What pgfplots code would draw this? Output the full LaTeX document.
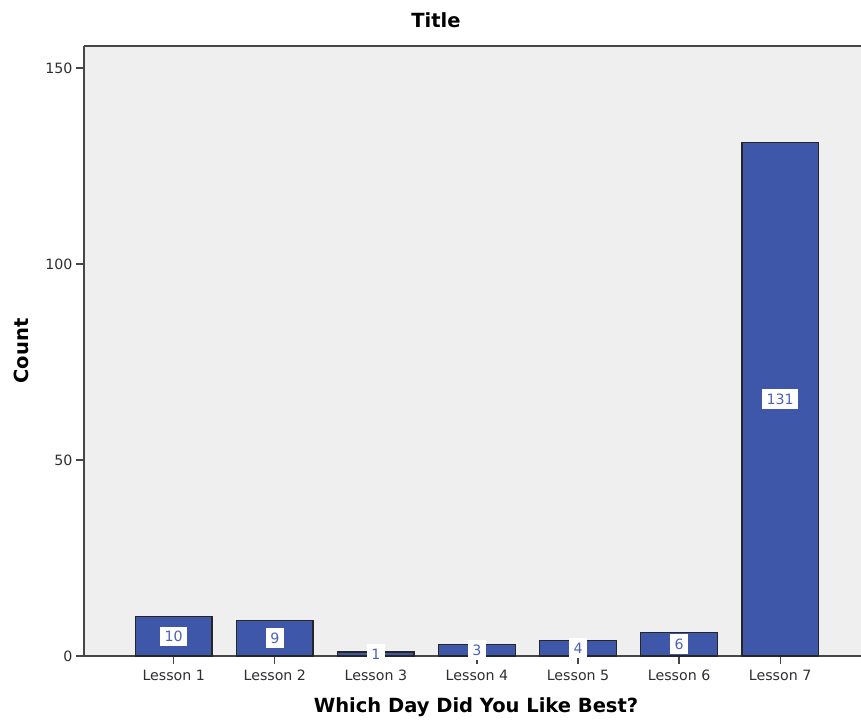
\documentclass[border=0pt]{standalone}
\usepackage{pgfplots}
\pgfplotsset{compat=1.18}
\usepackage{fontspec}
\setmainfont{DejaVu Sans}
\definecolor{barblue}{RGB}{62,87,168}
\definecolor{lblblue}{RGB}{75,98,185}
\definecolor{bggray}{RGB}{239,239,239}
\definecolor{axgray}{RGB}{70,70,70}
\begin{document}
\begin{tikzpicture}
\begin{axis}[
 at={(0,0)}, anchor=south west,
 scale only axis, width=777pt, height=610pt,
 xmin=-0.888, xmax=6.80, ymin=0, ymax=155.6,
 axis x line*=bottom, axis y line*=left,
 axis line style={axgray, line width=1.2pt},
 axis background/.style={fill=bggray},
 xtick={0,1,2,3,4,5,6},
 xticklabels={Lesson 1,Lesson 2,Lesson 3,Lesson 4,Lesson 5,Lesson 6,Lesson 7},
 ytick={0,50,100,150},
 tick align=outside, major tick length=8pt,
 tick style={axgray, line width=1.2pt},
 ticklabel style={font=\fontsize{14.2}{16}\selectfont, text=black!82},
 xticklabel style={yshift=-2.5pt},
 /pgf/number format/assume math mode=true,
 clip=false,
]
\addplot[ybar, bar width=0.757, fill=barblue, draw=black!85, line width=1.3pt,
  nodes near coords, point meta=y,
  visualization depends on={y \as \rawy},
  every node near coord/.append style={shift={(axis direction cs:0,-\rawy/2)}, anchor=center,
     fill=white, text=lblblue, inner xsep=4.5pt, inner ysep=4.5pt,
     font=\fontsize{14.2}{16}\selectfont}]
 coordinates {(0,10) (1,9) (2,1) (3,3) (4,4) (5,6) (6,131)};
\draw[axgray, line width=1.2pt] (rel axis cs:0,1) -- (rel axis cs:1,1);
\end{axis}
\node[font=\bfseries\fontsize{19.5}{22}\selectfont] at (352pt,636pt) {Title};
\node[font=\bfseries\fontsize{19.5}{22}\selectfont] at (392pt,-51pt) {Which Day Did You Like Best?};
\node[font=\bfseries\fontsize{19.5}{22}\selectfont, rotate=90] at (-63pt,305pt) {Count};
\pgfresetboundingbox
\path[use as bounding box] (-84pt,-65pt) rectangle (777pt,656pt);
\end{tikzpicture}
\end{document}
